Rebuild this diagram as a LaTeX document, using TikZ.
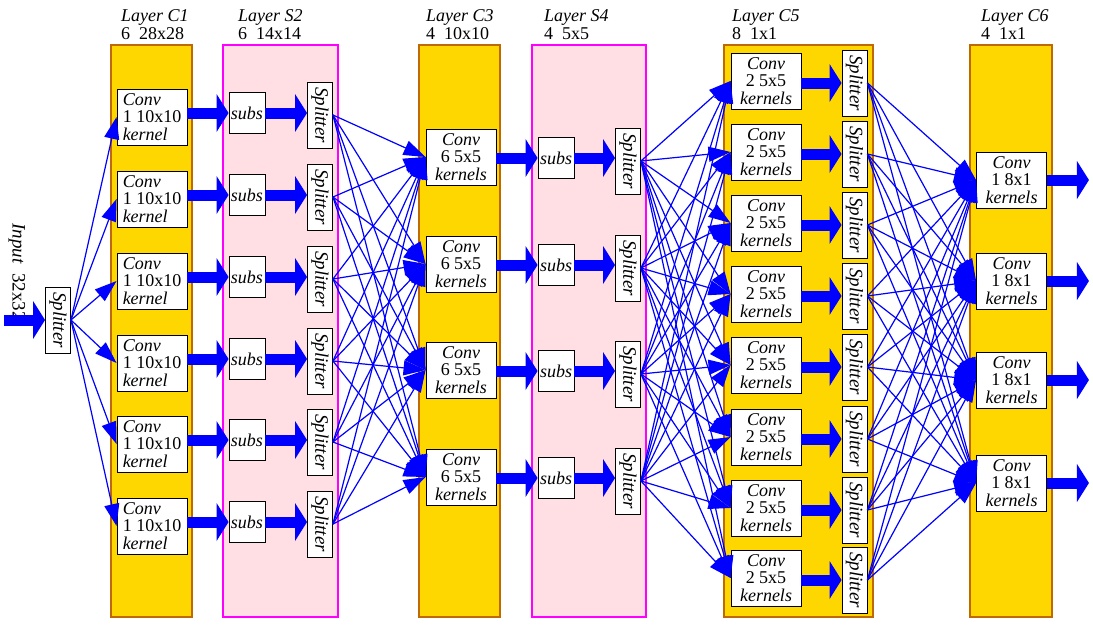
\documentclass[tikz,border=0pt]{standalone}
\usepackage{fontspec}
\setmainfont{Liberation Serif}
\usepackage{graphicx}
\usetikzlibrary{arrows.meta}
\definecolor{goldfill}{HTML}{FFD700}
\definecolor{goldedge}{RGB}{191,105,0}
\definecolor{pinkfill}{HTML}{FFDFE3}
\definecolor{magedge}{HTML}{FF00FF}
\definecolor{netblue}{HTML}{0000FF}
\tikzset{
  clayer/.style={fill=goldfill, draw=goldedge, line width=2pt},
  slayer/.style={fill=pinkfill, draw=magedge, line width=2pt},
  lbl/.style={anchor=west, align=left, inner sep=0pt, font=\fontsize{18}{18}\selectfont},
  convbox/.style={draw=black, fill=white, line width=0.9pt, minimum width=70pt, minimum height=56pt, inner sep=0pt, font=\fontsize{18}{17.5}\selectfont},
  subsbox/.style={draw=black, fill=white, line width=0.9pt, minimum width=36pt, minimum height=41pt, inner sep=0pt, font=\fontsize{18}{18}\selectfont\itshape},
  splitbox/.style={draw=black, fill=white, line width=0.9pt, minimum width=25pt, minimum height=66pt, inner sep=0pt, font=\fontsize{19}{18}\selectfont\itshape},
  fatshaft/.style={netblue, line width=11pt},
  fathead/.style={fill=netblue},
  link/.style={netblue, line width=1.2pt, -{Triangle[length=22pt 0 0,width=15pt 0 0]}}
}
\newcommand{\splt}{\rotatebox{-90}{Splitter}}
% fat horizontal arrow from coordinate #1 to coordinate #2
\newcommand{\fatar}[2]{%
  \draw[fatshaft] (#1) -- ([xshift=-11pt]#2);
  \fill[fathead] ([xshift=-12pt,yshift=19pt]#2) -- (#2) -- ([xshift=-12pt,yshift=-19pt]#2) -- cycle;}
\begin{document}
\begin{tikzpicture}[x=1pt,y=-1pt]
\useasboundingbox (0,0) rectangle (1093,627);
% layer backgrounds
\draw[clayer] (111,45) rectangle (192,617);
\draw[slayer] (223,45) rectangle (338,617);
\draw[clayer] (419,45) rectangle (500,617);
\draw[slayer] (532,45) rectangle (646,617);
\draw[clayer] (724,45) rectangle (873,617);
\draw[clayer] (970,45) rectangle (1052,617);
% layer labels
\node[lbl] (lC1) at (121,25) {\textit{Layer C1}\\6\ \ 28x28};
\node[lbl] (lS2) at (238,25) {\textit{Layer S2}\\6\ \ 14x14};
\node[lbl] (lC3) at (426,25) {\textit{Layer C3}\\4\ \ 10x10};
\node[lbl] (lS4) at (544,25) {\textit{Layer S4}\\4\ \ 5x5};
\node[lbl] (lC5) at (732,25) {\textit{Layer C5}\\8\ \ 1x1};
\node[lbl] (lC6) at (981,25) {\textit{Layer C6}\\4\ \ 1x1};
% input
\node[rotate=-90, inner sep=0pt, font=\fontsize{19}{18}\selectfont] (inlbl) at (17,272) {\textit{Input}\ \ 32x32};
\node[splitbox] (insp) at (58,320) {\splt};
\coordinate (inStart) at (4,320);
\fatar{inStart}{insp.west}
% C1 and S2
\foreach \i/\y in {1/117,2/199,3/281,4/363,5/444,6/526}{
  \node[convbox, align=left] (ca\i) at (152,\y) {\textit{Conv}\\1 10x10\\\textit{kernel}};
  \node[subsbox] (sa\i) at (247,\y-4) {subs};
  \node[splitbox] (pa\i) at (320,\y-2) {\splt};
  \coordinate (qa\i) at (ca\i.east |- sa\i.west);
  \coordinate (ra\i) at (pa\i.west |- sa\i.east);
  \fatar{qa\i}{sa\i.west}
  \fatar{sa\i.east}{ra\i}
}
% C3 and S4
\foreach \i/\y in {1/157,2/264,3/370,4/477}{
  \node[convbox, align=center] (cb\i) at (461,\y) {\textit{Conv}\\6 5x5\\\textit{kernels}};
  \node[subsbox] (sb\i) at (556,\y+1) {subs};
  \node[splitbox] (pb\i) at (628,\y+4) {\splt};
  \coordinate (qb\i) at (cb\i.east |- sb\i.west);
  \coordinate (rb\i) at (pb\i.west |- sb\i.east);
  \fatar{qb\i}{sb\i.west}
  \fatar{sb\i.east}{rb\i}
}
% C5
\foreach \i/\y in {1/81,2/152,3/223,4/294,5/365,6/437,7/508,8/578}{
  \node[convbox, align=center] (cc\i) at (766,\y) {\textit{Conv}\\2 5x5\\\textit{kernels}};
  \node[splitbox] (pc\i) at (854.5,\y+2) {\splt};
  \coordinate (qc\i) at (cc\i.east |- pc\i.west);
  \fatar{qc\i}{pc\i.west}
}
% C6
\foreach \i/\y in {1/180,2/281,3/380,4/483}{
  \node[convbox, align=center] (cd\i) at (1011.5,\y) {\textit{Conv}\\1 8x1\\\textit{kernels}};
  \coordinate (out\i) at ([xshift=42pt]cd\i.east);
  \fatar{cd\i.east}{out\i}
}
% links
\foreach \j in {1,...,6}{\draw[link] (insp.east) -- (ca\j.west);}
\foreach \i in {1,...,6}{\foreach \j in {1,...,4}{\draw[link] (pa\i.east) -- (cb\j.west);}}
\foreach \i in {1,...,4}{\foreach \j in {1,...,8}{\draw[link] (pb\i.east) -- (cc\j.west);}}
\foreach \i in {1,...,8}{\foreach \j in {1,...,4}{\draw[link] (pc\i.east) -- (cd\j.west);}}
\end{tikzpicture}
\end{document}
